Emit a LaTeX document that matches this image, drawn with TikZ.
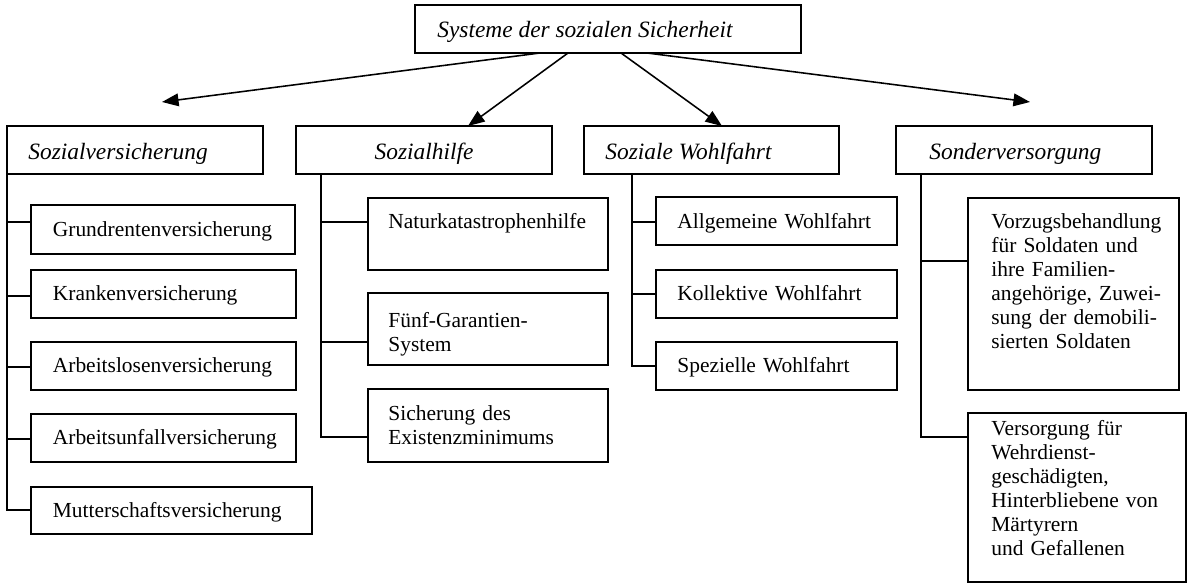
\documentclass[tikz,border=0pt]{standalone}
\usepackage{fontspec}
\setmainfont{Liberation Serif}
\usetikzlibrary{arrows.meta,fit,calc}
\begin{document}
\begin{tikzpicture}[x=0.513pt,y=-0.513pt,
  box/.style={draw,line width=1pt,inner sep=0pt,outer sep=0pt},
  head/.style={font=\fontsize{12}{14}\selectfont\itshape,inner sep=0pt},
  leaf/.style={font=\fontsize{11}{12.3}\selectfont,inner sep=0pt,text width=160pt,align=left,anchor=base west},
  arr/.style={line width=0.8pt,-{Triangle[length=8.5pt,width=6.5pt]}},
  con/.style={line width=1pt}]
\useasboundingbox (0,0) rectangle (1188,583);

% top
\node[box,fit={(415,5)(801,53)}] (top) {};
\node[head,anchor=base west] (topt) at (437,38) {Systeme der sozialen Sicherheit};

% level 2
\node[box,fit={(7,126)(263,174)}] (sv) {};
\node[head,anchor=base west] (svt) at (28,160) {Sozialversicherung};
\node[box,fit={(296,126)(552,174)}] (sh) {};
\node[head,anchor=base] (sht) at (424,160) {Sozialhilfe};
\node[box,fit={(584,126)(839,174)}] (sw) {};
\node[head,anchor=base west] (swt) at (605,160) {Soziale Wohlfahrt};
\node[box,fit={(896,126)(1152,174)}] (so) {};
\node[head,anchor=base west] (sot) at (929,160) {Sonderversorgung};

% arrows
\coordinate (t1) at (162,102);
\coordinate (t4) at (1030,102);
\draw[arr] ($(top.south west)+(125,0)$) -- (t1);
\draw[arr] ($(top.south west)+(153,0)$) -- ($(sh.north west)+(172,0)$);
\draw[arr] ($(top.south west)+(206,0)$) -- ($(sw.north west)+(138,0)$);
\draw[arr] ($(top.south west)+(232,0)$) -- (t4);

% column 1
\node[box,fit={(31,205)(295,254)}] (g1) {};
\node[leaf] (g1t) at (52.5,236.5) {Grundrentenversicherung};
\node[box,fit={(31,270)(296,318)}] (g2) {};
\node[leaf] (g2t) at (52.5,301) {Krankenversicherung};
\node[box,fit={(31,342)(296,390)}] (g3) {};
\node[leaf] (g3t) at (52.5,373) {Arbeitslosenversicherung};
\node[box,fit={(31,414)(296,462)}] (g4) {};
\node[leaf] (g4t) at (52.5,445) {Arbeitsunfallversicherung};
\node[box,fit={(31,487)(312,534)}] (g5) {};
\node[leaf] (g5t) at (52.5,517) {Mutterschaftsversicherung};

\draw[con] (sv.south west) |- ($(g1.north west)+(0,17)$);
\draw[con] (sv.south west) |- ($(g2.north west)+(0,26)$);
\draw[con] (sv.south west) |- ($(g3.north west)+(0,25)$);
\draw[con] (sv.south west) |- ($(g4.north west)+(0,25)$);
\draw[con] (sv.south west) |- ($(g5.north west)+(0,23)$);

% column 2
\node[box,fit={(368,198)(608,270)}] (h1) {};
\node[leaf] (h1t) at (388,229) {Naturkatastrophenhilfe};
\node[box,fit={(368,293)(608,365)}] (h2) {};
\node[leaf] (h2t) at (388,328) {Fünf-Garantien-\\System};
\node[box,fit={(368,389)(608,462)}] (h3) {};
\node[leaf] (h3t) at (388,421) {Sicherung des\\Existenzminimums};

\draw[con] ($(sh.south west)+(25,0)$) |- ($(h1.north west)+(0,24)$);
\draw[con] ($(sh.south west)+(25,0)$) |- ($(h2.north west)+(0,49)$);
\draw[con] ($(sh.south west)+(25,0)$) |- ($(h3.north west)+(0,48)$);

% column 3
\node[box,fit={(656,197)(897,245)}] (w1) {};
\node[leaf] (w1t) at (677,229) {Allgemeine Wohlfahrt};
\node[box,fit={(656,270)(897,318)}] (w2) {};
\node[leaf] (w2t) at (677,301) {Kollektive Wohlfahrt};
\node[box,fit={(656,342)(897,390)}] (w3) {};
\node[leaf] (w3t) at (677,373) {Spezielle Wohlfahrt};

\draw[con] ($(sw.south west)+(48,0)$) |- ($(w1.north west)+(0,25)$);
\draw[con] ($(sw.south west)+(48,0)$) |- ($(w2.north west)+(0,24)$);
\draw[con] ($(sw.south west)+(48,0)$) |- ($(w3.north west)+(0,24)$);

% column 4
\node[box,fit={(968,198)(1179,390)}] (o1) {};
\node[leaf] (o1t) at (991,229) {Vorzugsbehandlung\\für Soldaten und\\ihre Familien-\\angehörige, Zuwei-\\sung der demobili-\\sierten Soldaten};
\node[box,fit={(968,413)(1186,582)}] (o2) {};
\node[leaf] (o2t) at (991,436) {Versorgung für\\Wehrdienst-\\geschädigten,\\Hinterbliebene von\\Märtyrern\\und Gefallenen};

\draw[con] ($(so.south west)+(25,0)$) |- ($(o1.north west)+(0,63)$);
\draw[con] ($(so.south west)+(25,0)$) |- ($(o2.north west)+(0,24)$);
\end{tikzpicture}
\end{document}
